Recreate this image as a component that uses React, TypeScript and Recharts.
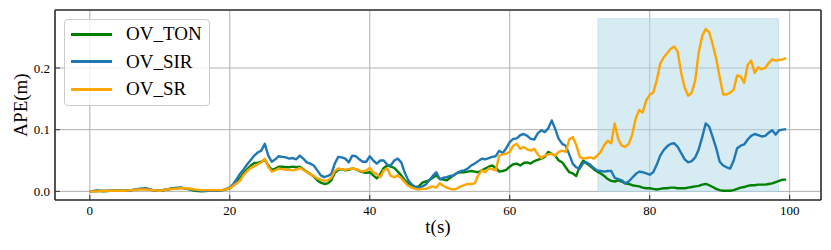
import {
  LineChart,
  Line,
  XAxis,
  YAxis,
  CartesianGrid,
  ReferenceArea,
  Legend,
} from 'recharts'

const FONT = '"Liberation Serif", "Times New Roman", serif'

const times = [
  0, 1, 2, 3, 4, 5, 6, 7, 8, 9, 10, 11, 12, 13, 14, 15, 16, 17, 18, 19,
  20, 20.5, 21, 21.5, 22, 22.5, 23, 23.5, 24, 24.5,
  25, 25.5, 26, 26.5, 27, 27.5, 28, 28.5, 29, 29.5,
  30, 30.5, 31, 31.5, 32, 32.5, 33, 33.5, 34, 34.5,
  35, 35.5, 36, 36.5, 37, 37.5, 38, 38.5, 39, 39.5,
  40, 40.5, 41, 41.5, 42, 42.5, 43, 43.5, 44, 44.5,
  45, 45.5, 46, 46.5, 47, 47.5, 48, 48.5, 49, 49.5,
  50, 50.5, 51, 51.5, 52, 52.5, 53, 53.5, 54, 54.5,
  55, 55.5, 56, 56.5, 57, 57.5, 58, 58.5, 59, 59.5,
  60, 60.5, 61, 61.5, 62, 62.5, 63, 63.5, 64, 64.5,
  65, 65.5, 66, 66.5, 67, 67.5, 68, 68.5, 69, 69.5,
  70, 70.5, 71, 71.5, 72, 72.5, 73, 73.5, 74, 74.5,
  75, 75.5, 76, 76.5, 77, 77.5, 78, 78.5, 79, 79.5,
  80, 80.5, 81, 81.5, 82, 82.5, 83, 83.5, 84, 84.5,
  85, 85.5, 86, 86.5, 87, 87.5, 88, 88.5, 89, 89.5,
  90, 90.5, 91, 91.5, 92, 92.5, 93, 93.5, 94, 94.5,
  95, 95.5, 96, 96.5, 97, 97.5, 98, 98.5, 99, 99.5,
]

const ovTon = [
  0.0, 0.001, 0.0, 0.001, 0.001, 0.001, 0.002, 0.004, 0.004, 0.002,
  0.001, 0.003, 0.005, 0.006, 0.004, 0.001, 0.0, 0.001, 0.001, 0.002,
  0.005, 0.01, 0.016, 0.022, 0.03, 0.036, 0.042, 0.046, 0.046, 0.048,
  0.051, 0.042, 0.035, 0.037, 0.04, 0.04, 0.039, 0.039, 0.04, 0.039,
  0.04, 0.036, 0.032, 0.028, 0.024, 0.018, 0.014, 0.012, 0.013, 0.018,
  0.03, 0.035, 0.036, 0.034, 0.035, 0.037, 0.036, 0.033, 0.031, 0.03,
  0.031, 0.026, 0.021, 0.028, 0.038, 0.042, 0.04, 0.038, 0.032, 0.026,
  0.018, 0.013, 0.01, 0.007, 0.008, 0.014, 0.016, 0.018, 0.022, 0.026,
  0.02, 0.019, 0.018, 0.022, 0.026, 0.03, 0.031, 0.031, 0.032, 0.033,
  0.032, 0.031, 0.034, 0.037, 0.04, 0.042, 0.038, 0.032, 0.033, 0.035,
  0.04, 0.044, 0.045, 0.042, 0.046, 0.047, 0.045, 0.049, 0.051, 0.053,
  0.056, 0.064, 0.061, 0.058, 0.05, 0.047, 0.039, 0.031, 0.029, 0.025,
  0.04, 0.05, 0.045, 0.041, 0.036, 0.032, 0.029, 0.025, 0.02, 0.017,
  0.016, 0.018, 0.016, 0.013, 0.012, 0.01, 0.009, 0.008, 0.006, 0.005,
  0.005, 0.004, 0.003, 0.004, 0.005, 0.005, 0.006, 0.006, 0.005, 0.005,
  0.005, 0.006, 0.007, 0.008, 0.009, 0.011, 0.012, 0.01, 0.007, 0.004,
  0.002, 0.001, 0.001, 0.001, 0.002, 0.004, 0.006, 0.007, 0.009, 0.01,
  0.01, 0.011, 0.011, 0.011, 0.012, 0.013, 0.015, 0.017, 0.019, 0.019,
]

const ovSir = [
  0.0, 0.001, 0.001, 0.001, 0.001, 0.001, 0.002, 0.004, 0.005, 0.002,
  0.001, 0.003, 0.005, 0.006, 0.004, 0.002, 0.001, 0.001, 0.001, 0.002,
  0.006, 0.012, 0.02, 0.029, 0.036, 0.044, 0.051, 0.058, 0.063, 0.066,
  0.077, 0.058, 0.048, 0.052, 0.057, 0.056, 0.055, 0.053, 0.054, 0.052,
  0.058, 0.053, 0.047, 0.045, 0.042, 0.034, 0.026, 0.023, 0.025, 0.028,
  0.045, 0.056, 0.055, 0.053, 0.047, 0.058, 0.057, 0.052, 0.048, 0.048,
  0.057, 0.05, 0.045, 0.05, 0.05, 0.043, 0.042, 0.05, 0.053, 0.047,
  0.03, 0.018, 0.011, 0.007, 0.006, 0.008, 0.011, 0.018, 0.025, 0.031,
  0.02, 0.022, 0.023, 0.025, 0.026, 0.03, 0.033, 0.034, 0.037, 0.042,
  0.045, 0.049, 0.053, 0.052, 0.054, 0.056, 0.057, 0.066, 0.062, 0.07,
  0.08, 0.085, 0.086, 0.091, 0.093, 0.09, 0.085, 0.084, 0.094, 0.099,
  0.096, 0.102, 0.115, 0.101, 0.085, 0.077, 0.074, 0.06, 0.045, 0.039,
  0.037, 0.046, 0.047, 0.043, 0.038, 0.034, 0.033, 0.032, 0.033, 0.033,
  0.022, 0.02, 0.018, 0.013, 0.016, 0.022, 0.028, 0.032, 0.031, 0.029,
  0.027, 0.031, 0.043, 0.058, 0.067, 0.073, 0.077, 0.078, 0.072, 0.062,
  0.052, 0.047, 0.049, 0.055, 0.068, 0.088, 0.11, 0.105, 0.088, 0.07,
  0.048, 0.042, 0.039, 0.037, 0.05, 0.07, 0.074, 0.076, 0.084, 0.09,
  0.093, 0.091, 0.089, 0.09, 0.095, 0.099, 0.092, 0.099, 0.1, 0.101,
]

const ovSr = [
  0.0, 0.0, 0.001, 0.001, 0.001, 0.001, 0.002, 0.003, 0.003, 0.002,
  0.001, 0.003, 0.004, 0.005, 0.005, 0.003, 0.002, 0.002, 0.002, 0.002,
  0.005, 0.009, 0.013, 0.018, 0.027, 0.033, 0.038, 0.041, 0.044, 0.047,
  0.053, 0.04, 0.032, 0.034, 0.037, 0.036, 0.035, 0.035, 0.034, 0.035,
  0.038, 0.035, 0.031, 0.028, 0.025, 0.021, 0.019, 0.017, 0.018, 0.022,
  0.033, 0.037, 0.036, 0.035, 0.036, 0.037, 0.036, 0.034, 0.032, 0.034,
  0.038, 0.031, 0.028, 0.023, 0.034, 0.037, 0.025, 0.023, 0.026, 0.021,
  0.015, 0.009, 0.006, 0.004, 0.003, 0.004, 0.004, 0.006, 0.008, 0.006,
  0.013, 0.009, 0.006, 0.004, 0.003, 0.005, 0.008, 0.01, 0.012, 0.012,
  0.013, 0.026, 0.034, 0.031, 0.037, 0.036, 0.034, 0.058, 0.06, 0.061,
  0.064, 0.074, 0.077, 0.069, 0.072, 0.068, 0.066, 0.069, 0.06, 0.054,
  0.058, 0.06, 0.061, 0.058, 0.064, 0.066, 0.064, 0.084, 0.088, 0.075,
  0.056, 0.053, 0.054, 0.055, 0.053, 0.058, 0.064, 0.075, 0.082, 0.078,
  0.11, 0.085, 0.074, 0.072, 0.077, 0.092, 0.118, 0.132, 0.128, 0.147,
  0.157, 0.16, 0.18, 0.207, 0.217, 0.224, 0.231, 0.235, 0.226, 0.192,
  0.168, 0.155, 0.16, 0.18, 0.225, 0.252, 0.263, 0.258, 0.238, 0.215,
  0.185, 0.157, 0.157, 0.16, 0.165, 0.188, 0.186, 0.176, 0.205, 0.212,
  0.192, 0.201, 0.198, 0.2, 0.208, 0.214, 0.212, 0.213, 0.214, 0.216,
]

const xTicks = [0, 20, 40, 60, 80, 100]
const yTicks = [0, 0.1, 0.2]

// shaded window (seconds) and its height (m)
const spanStart = 72.6
const spanEnd = 98.4
const spanTop = 0.28

const series = [
  { key: 'ton', name: 'OV_TON', color: '#008000' },
  { key: 'sir', name: 'OV_SIR', color: '#1f77b4' },
  { key: 'sr', name: 'OV_SR', color: '#ffa500' },
]

const data = times.map((t, i) => ({
  t,
  ton: ovTon[i],
  sir: ovSir[i],
  sr: ovSr[i],
}))

const spine = { stroke: '#333', strokeWidth: 1.6 }
const tickLine = { stroke: '#333', strokeWidth: 1 }

function XTick(props: any) {
  const { x, y, payload } = props
  return (
    <text x={x} y={y} dy="0.71em" textAnchor="middle" fontSize={13} fontFamily={FONT} fill="#000">
      {payload.value}
    </text>
  )
}

function YTick(props: any) {
  const { x, y, payload } = props
  return (
    <text x={x} y={y} dy="0.35em" textAnchor="end" fontSize={13} fontFamily={FONT} fill="#000">
      {Number(payload.value).toFixed(1)}
    </text>
  )
}

function BoxLegend() {
  return (
    <div
      style={{
        position: 'relative',
        width: 146,
        height: 87,
        boxSizing: 'border-box',
        border: '1px solid #cccccc',
        borderRadius: 4,
        background: 'rgba(255,255,255,0.8)',
      }}
    >
      {series.map((s, i) => (
        <div
          key={s.key}
          style={{
            position: 'absolute',
            left: 6,
            top: 4 + i * 27.5,
            height: 20,
            display: 'flex',
            alignItems: 'center',
          }}
        >
          <span
            style={{
              display: 'inline-block',
              width: 41,
              height: 3,
              background: s.color,
            }}
          />
          <span
            style={{
              marginLeft: 14,
              fontSize: 19,
              lineHeight: '20px',
              fontFamily: FONT,
              color: '#000',
              whiteSpace: 'nowrap',
            }}
          >
            {s.name}
          </span>
        </div>
      ))}
    </div>
  )
}

export default function App() {
  return (
    <div
      style={{
        position: 'absolute',
        left: 0,
        top: 0,
        width: 831,
        height: 250,
        background: '#fff',
        fontFamily: FONT,
      }}
    >
      <LineChart
        width={831}
        height={250}
        data={data}
        margin={{ top: 0, right: 0, bottom: 0, left: 0 }}
      >
        <ReferenceArea
          x1={spanStart}
          x2={spanEnd}
          y1={0}
          y2={spanTop}
          fill="#add8e6"
          fillOpacity={0.5}
          stroke="#add8e6"
          strokeOpacity={0.6}
        />
        <CartesianGrid stroke="#b0b0b0" strokeWidth={1} />
        <XAxis
          dataKey="t"
          type="number"
          domain={[-4.975, 104.475]}
          ticks={xTicks}
          interval={0}
          allowDataOverflow
          height={50}
          tickSize={-5}
          tickMargin={11}
          tick={<XTick />}
          axisLine={spine}
          tickLine={tickLine}
          label={{
            content: () => (
              <text x={438} y={233} textAnchor="middle" fontSize={19} fontFamily={FONT} fill="#000">
                t(s)
              </text>
            ),
          }}
        />
        <XAxis
          xAxisId="top"
          orientation="top"
          type="number"
          domain={[-4.975, 104.475]}
          ticks={xTicks}
          interval={0}
          allowDataOverflow
          height={10}
          tickSize={-5}
          tick={false}
          axisLine={spine}
          tickLine={tickLine}
        />
        <YAxis
          type="number"
          domain={[-0.014, 0.294]}
          ticks={yTicks}
          interval={0}
          allowDataOverflow
          width={55}
          tickSize={-5}
          tickMargin={10}
          tick={<YTick />}
          axisLine={spine}
          tickLine={tickLine}
          label={{
            content: () => (
              <text
                x={27}
                y={105}
                transform="rotate(-90 27 105)"
                textAnchor="middle"
                fontSize={19}
                fontFamily={FONT}
                fill="#000"
              >
                APE(m)
              </text>
            ),
          }}
        />
        <YAxis
          yAxisId="right"
          orientation="right"
          type="number"
          domain={[-0.014, 0.294]}
          ticks={yTicks}
          interval={0}
          allowDataOverflow
          width={10}
          tickSize={-5}
          tick={false}
          axisLine={spine}
          tickLine={tickLine}
        />
        {series.map((s) => (
          <Line
            key={s.key}
            type="linear"
            dataKey={s.key}
            name={s.name}
            stroke={s.color}
            strokeWidth={2.4}
            strokeLinejoin="round"
            dot={false}
            activeDot={false}
            isAnimationActive={false}
          />
        ))}
        <Legend
          layout="vertical"
          align="center"
          verticalAlign="middle"
          content={() => <BoxLegend />}
          wrapperStyle={{ position: 'absolute', left: 64, top: 19, width: 146, height: 87 }}
        />
      </LineChart>
    </div>
  )
}
